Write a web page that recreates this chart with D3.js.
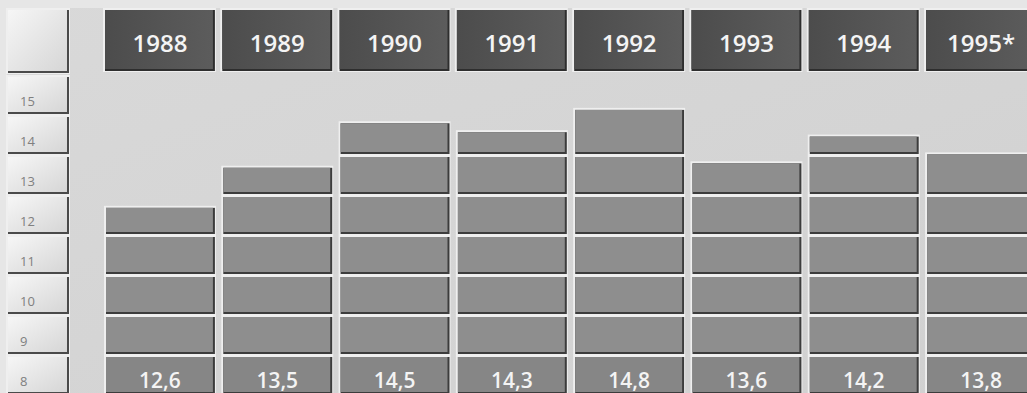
<!DOCTYPE html>
<html>
<head>
<meta charset="utf-8">
<style>
  body { margin: 0; background: #d5d5d5; overflow: hidden; }
  svg { display: block; }
</style>
</head>
<body>
<svg width="1027" height="393"></svg>
<script src="https://d3js.org/d3.v7.min.js"></script>
<script>

var years  = ["1988", "1989", "1990", "1991", "1992", "1993", "1994", "1995*"];
var values = [12.6, 13.5, 14.5, 14.3, 14.8, 13.6, 14.2, 13.8];
var ticks  = [15, 14, 13, 12, 11, 10, 9, 8];

var svg = d3.select("svg"),
    width = +svg.attr("width"),
    height = +svg.attr("height");

var de = d3.formatLocale({decimal: ",", thousands: ".", grouping: [3], currency: ["", " €"]});
var fmt = de.format(".1f");

// columns
var x = d3.scaleBand()
    .domain(years)
    .range([105, 1036])
    .paddingInner(0.063)
    .paddingOuter(0);

// row grid used by the label column and the bar slices
var row = d3.scaleBand()
    .domain(ticks)
    .range([75, 395])
    .padding(0);

// bar tops
var y = d3.scaleLinear()
    .domain([8, 15])
    .range([412.6, 101]);

var defs = svg.append("defs");
var bg = defs.append("linearGradient").attr("id", "bg").attr("x1", 0).attr("y1", 0).attr("x2", 1).attr("y2", 1);
bg.append("stop").attr("offset", "0%").attr("stop-color", "#d9d9d9");
bg.append("stop").attr("offset", "60%").attr("stop-color", "#d4d4d4");
bg.append("stop").attr("offset", "100%").attr("stop-color", "#d0d0d0");

var lbl = defs.append("linearGradient").attr("id", "lbl").attr("x1", 0).attr("y1", 0).attr("x2", 1).attr("y2", 1);
lbl.append("stop").attr("offset", "0%").attr("stop-color", "#f6f6f6");
lbl.append("stop").attr("offset", "100%").attr("stop-color", "#d6d6d6");

var hdr = defs.append("linearGradient").attr("id", "hdr").attr("x1", 0).attr("y1", 0).attr("x2", 1).attr("y2", 0);
hdr.append("stop").attr("offset", "0%").attr("stop-color", "#4c4c4c");
hdr.append("stop").attr("offset", "100%").attr("stop-color", "#5c5c5c");

svg.append("rect")
    .attr("width", width)
    .attr("height", height)
    .attr("fill", "url(#bg)");

// thin light margin round the picture
svg.append("rect").attr("x", 0).attr("y", 0).attr("width", width).attr("height", 8).attr("fill", "#e6e6e6");
svg.append("rect").attr("x", 0).attr("y", 0).attr("width", 7).attr("height", height).attr("fill", "#e6e6e6");

// a bevelled box: light edge top-left, dark edge bottom-right
function box(g, bx, by, bw, bh, fill, dark) {
  g.append("rect")
      .attr("x", bx - 2).attr("y", by - 2)
      .attr("width", bw + 3).attr("height", bh + 3)
      .attr("fill", "#efefef");
  g.append("rect")
      .attr("x", bx).attr("y", by)
      .attr("width", bw).attr("height", bh)
      .attr("fill", dark);
  g.append("rect")
      .attr("x", bx).attr("y", by)
      .attr("width", bw - 2).attr("height", bh - 2)
      .attr("fill", fill);
}

// Label column
var lab = svg.append("g").attr("class", "labels");
box(lab, 8, 10, 61, 63, "url(#lbl)", "#4a4a4a");
ticks.forEach(function(t) {
  box(lab, 8, row(t) + 2, 61, row.bandwidth() - 3, "url(#lbl)", "#4a4a4a");
  lab.append("text")
      .attr("x", 20)
      .attr("y", row(t) + 31)
      .attr("fill", "#808080")
      .attr("font-family", "Open Sans, sans-serif")
      .attr("font-size", 13)
      .text(t);
});

// Year headers
var head = svg.append("g").attr("class", "headers");
years.forEach(function(yr) {
  box(head, x(yr), 10, x.bandwidth(), 61, "url(#hdr)", "#2e2e2e");
  head.append("text")
      .attr("x", x(yr) + x.bandwidth() / 2)
      .attr("y", 52)
      .attr("text-anchor", "middle")
      .attr("fill", "#f4f4f4")
      .attr("font-family", "Open Sans, sans-serif")
      .attr("font-weight", 600)
      .attr("font-size", 24)
      .text(yr);
});

// Bars, sliced along the row grid
var bars = svg.append("g").attr("class", "bars");
years.forEach(function(yr, i) {
  var v = values[i];
  var top = y(v);
  var rows = ticks.filter(function(t) {
    return t <= 14 && top < row(t) + row.bandwidth() - 6;
  });
  var highest = d3.max(rows);
  rows.forEach(function(t) {
    var s0 = (t === highest) ? top : row(t) + 2;
    var s1 = row(t) + row.bandwidth() - 1;
    var fill = (t === 8) ? "#868686" : "#8e8e8e";
    box(bars, x(yr) + 1, s0, x.bandwidth() - 1, s1 - s0, fill, "#3c3c3c");
  });
  bars.append("text")
      .attr("x", x(yr) + x.bandwidth() / 2)
      .attr("y", row(8) + 33)
      .attr("text-anchor", "middle")
      .attr("fill", "#f4f4f4")
      .attr("font-family", "Open Sans, sans-serif")
      .attr("font-weight", 600)
      .attr("font-size", 21)
      .text(fmt(v));
});

</script>
</body>
</html>
